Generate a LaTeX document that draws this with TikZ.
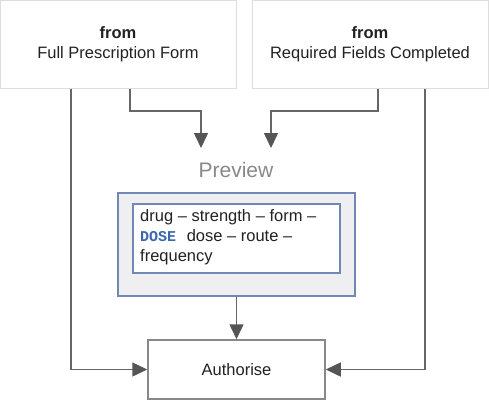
\documentclass[tikz,border=0pt]{standalone}
\usepackage{fontspec}
\setmainfont{Liberation Sans}
\newfontfamily\monofont{Liberation Mono}
\usetikzlibrary{arrows.meta}
\definecolor{txt}{HTML}{222222}
\definecolor{topborder}{HTML}{DDDDDD}
\definecolor{conn}{HTML}{666666}
\definecolor{tipc}{HTML}{555555}
\definecolor{pvborder}{HTML}{6F88B4}
\definecolor{pvfill}{HTML}{EFEFF2}
\definecolor{dosec}{HTML}{3A67AE}
\definecolor{authborder}{HTML}{888888}
\definecolor{pvtext}{HTML}{888888}
\tikzset{
  topbox/.style={draw=topborder, line width=1pt, fill=white, minimum width=236pt, minimum height=88pt, inner sep=0pt, align=center, text=txt, font=\fontsize{16.5}{20}\selectfont},
  conline/.style={draw=conn, line width=1.5pt, -{Triangle[length=15pt,width=14pt,fill=tipc,color=tipc]}},
}
\begin{document}
\begin{tikzpicture}[x=1pt,y=-1pt]
\useasboundingbox (0,0) rectangle (489,400);
% top boxes
\node[topbox] (tl) at (118,44) {\textbf{from}\\Full Prescription Form};
\node[topbox] (tr) at (370,44) {\textbf{from}\\Required Fields Completed};
% preview label
\node[text=pvtext, font=\fontsize{21}{24}\selectfont, inner sep=0pt] (pvl) at (236,170) {Preview};
% preview outer box
\node[draw=pvborder, fill=pvfill, line width=1.2pt, minimum width=237pt, minimum height=103pt, inner sep=0pt] (pvo) at (236.5,244.5) {};
% inner box
\node[draw=pvborder, fill=white, line width=1.2pt, minimum width=207pt, minimum height=69pt, inner sep=0pt] (pvi) at (236.5,238.5) {};
\node[anchor=north west, inner sep=0pt, align=left, text=txt, font=\fontsize{16.5}{20}\selectfont] (pvt) at (140,209.5)
  {drug -- strength -- form --\\{\color{dosec}\monofont\bfseries\fontsize{15}{20}\selectfont DOSE}\hspace{6pt} dose -- route --\\frequency};
% authorise
\node[draw=authborder, fill=white, line width=1.5pt, minimum width=177pt, minimum height=59pt, inner sep=0pt, text=txt, font=\fontsize{16.5}{20}\selectfont] (auth) at (236.5,369.5) {Authorise};
% free ends
\coordinate (e1) at (201,148);
\coordinate (e2) at (271,148);
% connectors
\draw[conline] (tl.south -| 71,0) |- (auth.west);
\draw[conline] (tr.south -| 425,0) |- (auth.east);
\draw[conline] (tl.south -| 130,0) |- (201,111) -- (e1);
\draw[conline] (tr.south -| 378,0) |- (271,111) -- (e2);
\draw[conline] (pvo.south) -- (auth.north);
\end{tikzpicture}
\end{document}
